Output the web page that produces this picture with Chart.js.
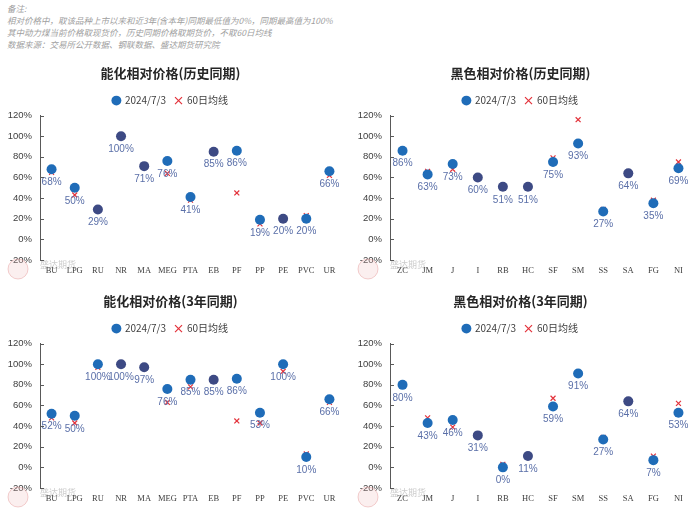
<!DOCTYPE html>
<html>
<head>
<meta charset="utf-8">
<script src="https://cdn.jsdelivr.net/npm/chart.js@4.4.1/dist/chart.umd.min.js"></script>
<style>
  body { margin: 0; background: #fff; width: 700px; height: 509px; position: relative; overflow: hidden; }
  .notes { position: absolute; left: 7px; top: 2px; font-family: "Noto Sans CJK SC", sans-serif; font-size: 8.5px; font-style: italic; color: #a0a0a0; line-height: 12px; }
  canvas { position: absolute; }
</style>
</head>
<body>
<div class="notes">
  <div>备注:</div>
  <div>相对价格中，取该品种上市以来和近3年(含本年)同期最低值为0%，同期最高值为100%</div>
  <div>其中动力煤当前价格取现货价，历史同期价格取期货价，不取60日均线</div>
  <div>数据来源：交易所公开数据、钢联数据、盛达期货研究院</div>
</div>
<canvas id="c1" width="350" height="228" style="left:0;top:52px"></canvas>
<canvas id="c2" width="350" height="228" style="left:350px;top:52px"></canvas>
<canvas id="c3" width="350" height="228" style="left:0;top:280px"></canvas>
<canvas id="c4" width="350" height="228" style="left:350px;top:280px"></canvas>
<script>
// categories
const nhCats = ['BU', 'LPG', 'RU', 'NR', 'MA', 'MEG', 'PTA', 'EB', 'PF', 'PP', 'PE', 'PVC', 'UR'];
const hsCats = ['ZC', 'JM', 'J', 'I', 'RB', 'HC', 'SF', 'SM', 'SS', 'SA', 'FG', 'NI'];

// 历史同期
const nhHistNow = [68, 50, 29, 100, 71, 76, 41, 85, 86, 19, 20, 20, 66];
const nhHistMa = [65, 43, 29, 100, 71, 64, 38, 85, 45, 15, 20, 23, 62];
const hsHistNow = [86, 63, 73, 60, 51, 51, 75, 93, 27, 64, 35, 69];
const hsHistMa = [null, 66, 68, 60, 51, 51, 79, 116, 29, 64, 38, 75];

// 3年同期
const nh3yNow = [52, 50, 100, 100, 97, 76, 85, 85, 86, 53, 100, 10, 66];
const nh3yMa = [48, 43, 97, 100, 97, 63, 78, 85, 45, 43, 93, 13, 63];
const hs3yNow = [80, 43, 46, 31, 0, 11, 59, 91, 27, 64, 7, 53];
const hs3yMa = [null, 48, 39, 30, 3, 11, 67, null, 29, 64, 11, 62];

const yTicks = [-20, 0, 20, 40, 60, 80, 100, 120];

const BLUE = '#1f6cb8';
const DARK = '#3d4a84';
const RED = '#e3323b';

// value labels, inward y ticks and watermark
const extrasPlugin = {
  id: 'extras',
  afterDatasetsDraw(chart) {
    const ctx = chart.ctx;
    const meta = chart.getDatasetMeta(0);
    const vals = chart.data.datasets[0].data;
    ctx.save();
    ctx.font = '10px "Liberation Sans", sans-serif';
    ctx.fillStyle = '#5a6fa8';
    ctx.textAlign = 'center';
    ctx.textBaseline = 'middle';
    meta.data.forEach((pt, i) => {
      if (vals[i] == null) return;
      ctx.fillText(vals[i] + '%', pt.x, pt.y + 13);
    });
    ctx.restore();
  },
  afterDraw(chart) {
    const ctx = chart.ctx;
    const y = chart.scales.y;
    const left = chart.chartArea.left;
    ctx.save();
    ctx.strokeStyle = '#595959';
    ctx.lineWidth = 1;
    y.ticks.forEach((t, i) => {
      const py = Math.round(y.getPixelForTick(i)) + 0.5;
      ctx.beginPath();
      ctx.moveTo(left, py);
      ctx.lineTo(left + 4, py);
      ctx.stroke();
    });
    // watermark
    const by = chart.chartArea.bottom;
    ctx.strokeStyle = 'rgba(220,120,120,0.35)';
    ctx.fillStyle = 'rgba(240,190,190,0.25)';
    ctx.beginPath();
    ctx.arc(18, by + 9, 10, 0, Math.PI * 2);
    ctx.fill();
    ctx.stroke();
    ctx.fillStyle = 'rgba(140,140,140,0.45)';
    ctx.font = '9px "Noto Sans CJK SC", sans-serif';
    ctx.textBaseline = 'middle';
    ctx.fillText('盛达期货', 40, by + 5);
    ctx.restore();
  }
};

function makeChart(id, title, cats, now, ma) {
  const ctx = document.getElementById(id).getContext('2d');
  return new Chart(ctx, {
    type: 'line',
    data: {
      labels: cats,
      datasets: [
        {
          label: '2024/7/3',
          data: now,
          showLine: false,
          pointStyle: 'circle',
          pointRadius: 5,
          pointHoverRadius: 5,
          pointBorderWidth: 0,
          borderColor: BLUE,
          backgroundColor: BLUE,
          pointBackgroundColor: c => {
            const m = ma[c.dataIndex];
            return (m != null && Math.abs(m - now[c.dataIndex]) <= 1) ? DARK : BLUE;
          }
        },
        {
          label: '60日均线',
          data: ma,
          showLine: false,
          pointStyle: 'crossRot',
          pointRadius: 3.5,
          pointHoverRadius: 3.5,
          pointBorderWidth: 1.2,
          borderColor: RED,
          backgroundColor: RED
        }
      ]
    },
    options: {
      responsive: false,
      animation: false,
      layout: { padding: { top: 0, right: 9, bottom: 0, left: 0 } },
      plugins: {
        title: {
          display: true,
          text: title,
          color: '#262626',
          font: { family: '"Noto Sans CJK SC", sans-serif', size: 13, weight: 'bold' },
          padding: { top: 13, bottom: 6 }
        },
        legend: {
          display: true,
          labels: {
            usePointStyle: true,
            boxWidth: 7,
            boxHeight: 7,
            padding: 9,
            color: '#404040',
            font: { family: '"Noto Sans CJK SC", sans-serif', size: 10 }
          }
        },
        tooltip: { enabled: false }
      },
      scales: {
        x: {
          offset: true,
          grid: { display: false, drawTicks: false },
          border: { display: false },
          ticks: {
            color: '#404040',
            padding: 6,
            maxRotation: 0,
            autoSkip: false,
            font: { family: '"Liberation Serif", serif', size: 8.5 }
          },
          afterFit: axis => { axis.height = 20; }
        },
        y: {
          min: -20,
          max: 120,
          afterBuildTicks: axis => { axis.ticks = yTicks.map(v => ({ value: v })); },
          grid: { display: false, drawTicks: false },
          border: { display: true, color: '#595959', width: 1 },
          ticks: {
            color: '#404040',
            padding: 8,
            font: { family: '"Liberation Sans", sans-serif', size: 9.5 },
            callback: v => v + '%'
          },
          afterFit: axis => { axis.width = 40; }
        }
      }
    },
    plugins: [extrasPlugin]
  });
}

makeChart('c1', '能化相对价格(历史同期)', nhCats, nhHistNow, nhHistMa);
makeChart('c2', '黑色相对价格(历史同期)', hsCats, hsHistNow, hsHistMa);
makeChart('c3', '能化相对价格(3年同期)', nhCats, nh3yNow, nh3yMa);
makeChart('c4', '黑色相对价格(3年同期)', hsCats, hs3yNow, hs3yMa);
</script>
</body>
</html>
